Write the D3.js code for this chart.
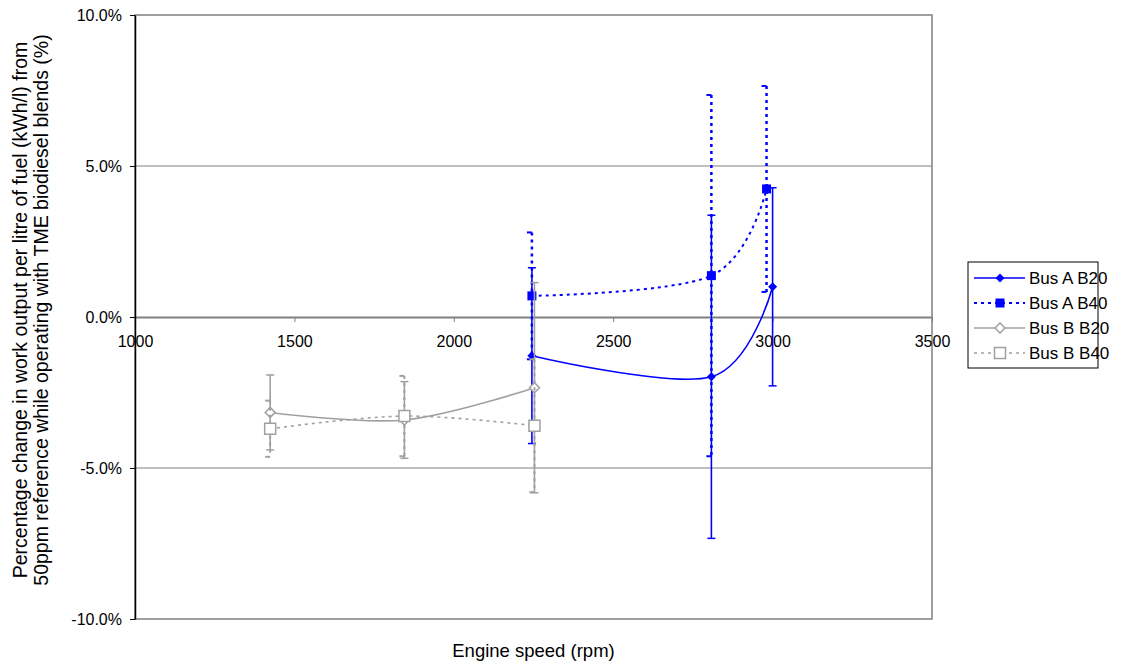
<!DOCTYPE html>
<html>
<head>
<meta charset="utf-8">
<script src="https://cdn.jsdelivr.net/npm/d3@7"></script>
<style>
  html, body { margin: 0; padding: 0; background: #fff; }
  svg { display: block; font-family: "Liberation Sans", Arial, sans-serif; }
</style>
</head>
<body>
<svg id="chart" width="1127" height="665"></svg>
<script>
// Engine speed (rpm) and percentage change in work output per litre
const busAB20Speed = [2245, 2808, 3000];
const busAB20Value = [-1.28, -1.98, 1.0];
const busAB20Err   = [2.91, 5.35, 3.28];

const busAB40Speed = [2245, 2808, 2981];
const busAB40Value = [0.70, 1.37, 4.24];
const busAB40Err   = [2.10, 5.98, 3.41];

const busBB20Speed = [1424, 1845, 2253];
const busBB20Value = [-3.16, -3.41, -2.34];
const busBB20Err   = [1.24, 1.27, 3.48];

const busBB40Speed = [1424, 1845, 2253];
const busBB40Value = [-3.70, -3.28, -3.60];
const busBB40Err   = [0.93, 1.33, 2.20];

const seriesNames = ["Bus A B20", "Bus A B40", "Bus B B20", "Bus B B40"];
const xTicks = [1000, 1500, 2000, 2500, 3000, 3500];
const yTicks = [-10, -5, 0, 5, 10];
const yTickLabels = ["-10.0%", "-5.0%", "0.0%", "5.0%", "10.0%"];

const svg = d3.select("#chart");
const x = d3.scaleLinear().domain([1000, 3500]).range([135, 932]);
const y = d3.scaleLinear().domain([-10, 10]).range([619, 15]);

const BLUE = "#0000ff";
const GREY = "#a0a0a0";

const series = [
  { name: seriesNames[0], xs: busAB20Speed, ys: busAB20Value, es: busAB20Err,
    color: BLUE, dash: null, width: 1.6, errWidth: 1.6, marker: "diamond", fill: BLUE, size: 9 },
  { name: seriesNames[1], xs: busAB40Speed, ys: busAB40Value, es: busAB40Err,
    color: BLUE, dash: "3,4", width: 2, errWidth: 2.5, marker: "square", fill: BLUE, size: 9 },
  { name: seriesNames[2], xs: busBB20Speed, ys: busBB20Value, es: busBB20Err,
    color: GREY, dash: null, width: 1.6, errWidth: 1.6, marker: "diamond", fill: "#fff", size: 10 },
  { name: seriesNames[3], xs: busBB40Speed, ys: busBB40Value, es: busBB40Err,
    color: GREY, dash: "3,4", width: 1.6, errWidth: 2, marker: "square", fill: "#fff", size: 11 }
];

// Plot area frame and gridlines
const plot = svg.append("g");
plot.append("rect")
  .attr("x", x(1000)).attr("y", y(10))
  .attr("width", x(3500) - x(1000)).attr("height", y(-10) - y(10))
  .attr("fill", "none").attr("stroke", "#808080").attr("stroke-width", 1.5);

plot.selectAll("line.grid")
  .data(yTicks.filter(v => v !== 0 && Math.abs(v) !== 10))
  .join("line")
  .attr("class", "grid")
  .attr("x1", x(1000)).attr("x2", x(3500))
  .attr("y1", d => y(d)).attr("y2", d => y(d))
  .attr("stroke", "#808080").attr("stroke-width", 1);

// Horizontal axis through 0%
const xAxis = d3.axisBottom(x).tickValues(xTicks).tickFormat(d3.format("d"))
  .tickSize(5).tickPadding(14).tickSizeOuter(0);
const gx = svg.append("g").attr("transform", `translate(0,${y(0)})`).call(xAxis);
gx.select(".domain").attr("stroke", "#808080").attr("stroke-width", 2);
gx.selectAll(".tick line").attr("stroke", "#808080");
gx.selectAll(".tick text").attr("font-size", 16).attr("fill", "#000")
  .attr("font-family", "Liberation Sans, Arial, sans-serif");

// Vertical axis
const yAxis = d3.axisLeft(y).tickValues(yTicks)
  .tickFormat((d, i) => yTickLabels[i]).tickSize(5).tickPadding(8).tickSizeOuter(0);
const gy = svg.append("g").attr("transform", `translate(${x(1000)},0)`).call(yAxis);
gy.select(".domain").attr("stroke", "#000").attr("stroke-width", 1.5);
gy.selectAll(".tick line").attr("stroke", "#000");
gy.selectAll(".tick text").attr("font-size", 16).attr("fill", "#000")
  .attr("font-family", "Liberation Sans, Arial, sans-serif");

// Markers: diamonds are squares turned 45 degrees
function markerPath(type, size) {
  if (type === "square") {
    return d3.symbol(d3.symbolSquare, size * size)();
  }
  return d3.symbol(d3.symbolSquare, size * size / 2)();
}
function markerRotate(type) { return type === "diamond" ? 45 : 0; }

const line = d3.line().x(d => x(d[0])).y(d => y(d[1])).curve(d3.curveCardinal.tension(0));

series.forEach(s => {
  const g = svg.append("g");
  const pts = s.xs.map((v, i) => [v, s.ys[i], s.es[i]]);

  g.append("path")
    .attr("d", line(pts))
    .attr("fill", "none")
    .attr("stroke", s.color)
    .attr("stroke-width", s.width)
    .attr("stroke-dasharray", s.dash);

  const eb = g.selectAll("g.err").data(pts).join("g").attr("class", "err");
  eb.append("line")
    .attr("x1", d => x(d[0])).attr("x2", d => x(d[0]))
    .attr("y1", d => y(d[1] + d[2])).attr("y2", d => y(d[1] - d[2]))
    .attr("stroke", s.color).attr("stroke-width", s.errWidth)
    .attr("stroke-dasharray", s.dash);
  [1, -1].forEach(sign => {
    eb.append("line")
      .attr("x1", d => x(d[0]) - (s.dash ? 5 : 4)).attr("x2", d => x(d[0]) + (s.dash ? 0 : 4))
      .attr("y1", d => y(d[1] + sign * d[2])).attr("y2", d => y(d[1] + sign * d[2]))
      .attr("stroke", s.color).attr("stroke-width", s.dash ? 2 : 1.5);
  });

  g.selectAll("path.mk").data(pts).join("path")
    .attr("class", "mk")
    .attr("d", markerPath(s.marker, s.size))
    .attr("transform", d => `translate(${x(d[0])},${y(d[1])}) rotate(${markerRotate(s.marker)})`)
    .attr("fill", s.fill)
    .attr("stroke", s.color)
    .attr("stroke-width", s.fill === "#fff" ? 1.5 : 0);
});

// Axis titles
svg.append("text")
  .attr("x", (x(1000) + x(3500)) / 2).attr("y", 657)
  .attr("text-anchor", "middle").attr("font-size", 18.5)
  .text("Engine speed (rpm)");

const yTitle = svg.append("text")
  .attr("transform", `translate(0,310) rotate(-90)`)
  .attr("text-anchor", "middle").attr("font-size", 19.5);
yTitle.append("tspan").attr("x", 0).attr("y", 27)
  .text("Percentage change in work output per litre of fuel (kWh/l) from");
yTitle.append("tspan").attr("x", 0).attr("y", 48)
  .text("50ppm reference while operating with TME biodiesel blends (%)");

// Legend
const lg = svg.append("g");
lg.append("rect").attr("x", 968).attr("y", 262).attr("width", 130).attr("height", 106)
  .attr("fill", "#fff").attr("stroke", "#000").attr("stroke-width", 1);
series.forEach((s, i) => {
  const cy = 278 + i * 25;
  lg.append("line").attr("x1", 974).attr("x2", 1025).attr("y1", cy).attr("y2", cy)
    .attr("stroke", s.color).attr("stroke-width", s.width).attr("stroke-dasharray", s.dash);
  lg.append("path").attr("d", markerPath(s.marker, s.size))
    .attr("transform", `translate(1000,${cy}) rotate(${markerRotate(s.marker)})`)
    .attr("fill", s.fill).attr("stroke", s.color)
    .attr("stroke-width", s.fill === "#fff" ? 1.5 : 0);
  lg.append("text").attr("x", 1029).attr("y", cy + 6).attr("font-size", 17)
    .text(s.name);
});
</script>
</body>
</html>
